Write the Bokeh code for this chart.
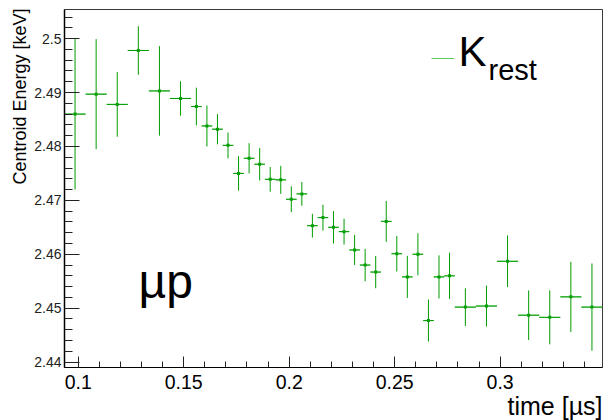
import math
from bokeh.plotting import figure
from bokeh.models import (Range1d, FixedTicker, CustomJSTickFormatter, Label,
                          Legend, LegendItem, ColumnDataSource, Title)
from bokeh.embed import file_html
from bokeh.resources import INLINE

# ---------------- data ----------------
time_center = [0.0985, 0.1085, 0.1185, 0.1285, 0.1385, 0.1485,
               0.156, 0.161, 0.166, 0.171, 0.176, 0.181, 0.186, 0.191, 0.196,
               0.201, 0.206, 0.211, 0.216, 0.221, 0.226, 0.231, 0.236, 0.241,
               0.246, 0.251, 0.256, 0.261, 0.266, 0.271, 0.276,
               0.2835, 0.2935, 0.3035, 0.3135, 0.3235, 0.3335, 0.3435]
time_halfwidth = [0.005] * 6 + [0.0025] * 25 + [0.005] * 7
energy = [2.4860, 2.4897, 2.4878, 2.4978, 2.4903, 2.4889,
          2.4874, 2.4838, 2.4832, 2.4802, 2.4750, 2.4778, 2.4767, 2.4739, 2.4738,
          2.4702, 2.4712, 2.4653, 2.4668, 2.4650, 2.4642, 2.4608, 2.4580, 2.4567,
          2.4661, 2.4601, 2.4558, 2.4600, 2.4477, 2.4558, 2.4560,
          2.4502, 2.4504, 2.4587, 2.4487, 2.4483, 2.4521, 2.4502]
energy_err = [0.0140, 0.0102, 0.0060, 0.0045, 0.0083, 0.0032,
              0.0035, 0.0038, 0.0028, 0.0024, 0.0032, 0.0028, 0.0030, 0.0023, 0.0026,
              0.0024, 0.0022, 0.0022, 0.0024, 0.0030, 0.0024, 0.0028, 0.0030, 0.0030,
              0.0038, 0.0033, 0.0039, 0.0039, 0.0039, 0.0040, 0.0043,
              0.0035, 0.0038, 0.0048, 0.0046, 0.0050, 0.0065, 0.0081]

x_ticks = [0.1, 0.15, 0.2, 0.25, 0.3]
x_tick_labels = ["0.1", "0.15", "0.2", "0.25", "0.3"]
x_minor_ticks = [0.1, 0.11, 0.12, 0.13, 0.14, 0.15, 0.16, 0.17, 0.18, 0.19, 0.2,
                 0.21, 0.22, 0.23, 0.24, 0.25, 0.26, 0.27, 0.28, 0.29, 0.3,
                 0.31, 0.32, 0.33, 0.34]
y_ticks = [2.44, 2.45, 2.46, 2.47, 2.48, 2.49, 2.5]
y_tick_labels = ["2.44", "2.45", "2.46", "2.47", "2.48", "2.49", "2.5"]
y_minor_ticks = [2.44, 2.442, 2.444, 2.446, 2.448, 2.45, 2.452, 2.454, 2.456, 2.458,
                 2.46, 2.462, 2.464, 2.466, 2.468, 2.47, 2.472, 2.474, 2.476, 2.478,
                 2.48, 2.482, 2.484, 2.486, 2.488, 2.49, 2.492, 2.494, 2.496, 2.498,
                 2.5, 2.502, 2.504]

x_title = "time [µs]"
y_title = "Centroid Energy [keV]"
series_name = "K"
series_sub = "rest"
annotation = "µp"

X_START, X_END = 0.0935, 0.3485
Y_START, Y_END = 2.4390, 2.5054

GREEN = "#009c00"
LEGEND_GREEN = "#5cc85c"
FONT = "Liberation Sans"

# ---------------- derived ----------------
x_left = [x if (x - h) < X_START else x - h for x, h in zip(time_center, time_halfwidth)]
x_right = [x + h for x, h in zip(time_center, time_halfwidth)]
y_low = [y - e for y, e in zip(energy, energy_err)]
y_high = [y + e for y, e in zip(energy, energy_err)]

src = ColumnDataSource(dict(x=time_center, y=energy, xl=x_left, xr=x_right,
                            yl=y_low, yh=y_high))

p = figure(width=615, height=420, output_backend="svg", toolbar_location=None,
           x_range=Range1d(X_START, X_END), y_range=Range1d(Y_START, Y_END),
           min_border_left=64, min_border_right=13, min_border_top=9,
           min_border_bottom=53)
p.grid.visible = False
p.background_fill_color = "white"
p.border_fill_color = "white"
p.outline_line_color = "#3a3a3a"
p.outline_line_width = 1

# legend-key renderer (drawn first, hidden beneath the real x-error bars)
key = p.segment(x0="xl", y0="y", x1="xr", y1="y", source=src,
                line_color=LEGEND_GREEN, line_width=1)
p.segment(x0="xl", y0="y", x1="xr", y1="y", source=src,
          line_color=GREEN, line_width=1)
p.segment(x0="x", y0="yl", x1="x", y1="yh", source=src,
          line_color=GREEN, line_width=1)
p.scatter(x="x", y="y", source=src, marker="square", size=3,
          fill_color=GREEN, line_color=None)

fmt_code = """
for (let i = 0; i < ticks_v.length; i++) {
  if (Math.abs(ticks_v[i] - tick) < 1e-9) return labels[i];
}
return "";
"""

xa = p.xaxis[0]
xa.ticker = FixedTicker(ticks=x_ticks, minor_ticks=x_minor_ticks)
xa.formatter = CustomJSTickFormatter(args=dict(ticks_v=x_ticks, labels=x_tick_labels), code=fmt_code)
xa.major_tick_in = 11
xa.major_tick_out = 0
xa.minor_tick_in = 6
xa.minor_tick_out = 0
xa.major_label_text_font = FONT
xa.major_label_text_font_size = "19.5px"
xa.major_label_text_color = "black"
xa.major_label_standoff = 7
xa.axis_line_color = "black"
xa.major_tick_line_color = "#222222"
xa.minor_tick_line_color = "#222222"

ya = p.yaxis[0]
ya.ticker = FixedTicker(ticks=y_ticks, minor_ticks=y_minor_ticks)
ya.formatter = CustomJSTickFormatter(args=dict(ticks_v=y_ticks, labels=y_tick_labels), code=fmt_code)
ya.major_tick_in = 15
ya.major_tick_out = 0
ya.minor_tick_in = 8
ya.minor_tick_out = 0
ya.major_label_text_font = FONT
ya.major_label_text_font_size = "14px"
ya.major_label_text_color = "#222222"
ya.major_label_standoff = 3
ya.axis_line_color = "black"
ya.axis_line_width = 1.5
ya.major_tick_line_color = "#222222"
ya.minor_tick_line_color = "#222222"

# axis titles as side-panel titles aligned to the far end of each axis
p.add_layout(Title(text=y_title, align="right", standoff=3, offset=-1,
                   text_font=FONT, text_font_size="18px", text_font_style="normal",
                   text_color="black"), "left")
p.add_layout(Title(text=x_title, align="right", standoff=-3, offset=0,
                   text_font=FONT, text_font_size="25px", text_font_style="normal",
                   text_color="black"), "below")

# legend (line key) + text labels
leg = Legend(items=[LegendItem(label=" ", renderers=[key])],
             location=(367, 299), padding=0, margin=0, spacing=0,
             border_line_color=None, background_fill_alpha=0,
             glyph_width=23, glyph_height=20, label_standoff=4,
             label_text_font=FONT, label_text_font_size="42px",
             label_text_color="black")
p.add_layout(leg)
p.add_layout(Label(x=394, y=316, x_units="screen", y_units="screen", text=series_name,
                   text_align="left", text_baseline="alphabetic",
                   text_font=FONT, text_font_size="42px", text_color="black"))
p.add_layout(Label(x=424, y=298, x_units="screen", y_units="screen", text=series_sub,
                   text_align="left", text_baseline="alphabetic",
                   text_font=FONT, text_font_size="29px", text_color="black"))

p.add_layout(Label(x=74, y=86, x_units="screen", y_units="screen", text=annotation,
                   text_align="left", text_baseline="alphabetic",
                   text_font=FONT, text_font_size="48px", text_color="black"))

open("out.html", "w").write(file_html(p, INLINE))
